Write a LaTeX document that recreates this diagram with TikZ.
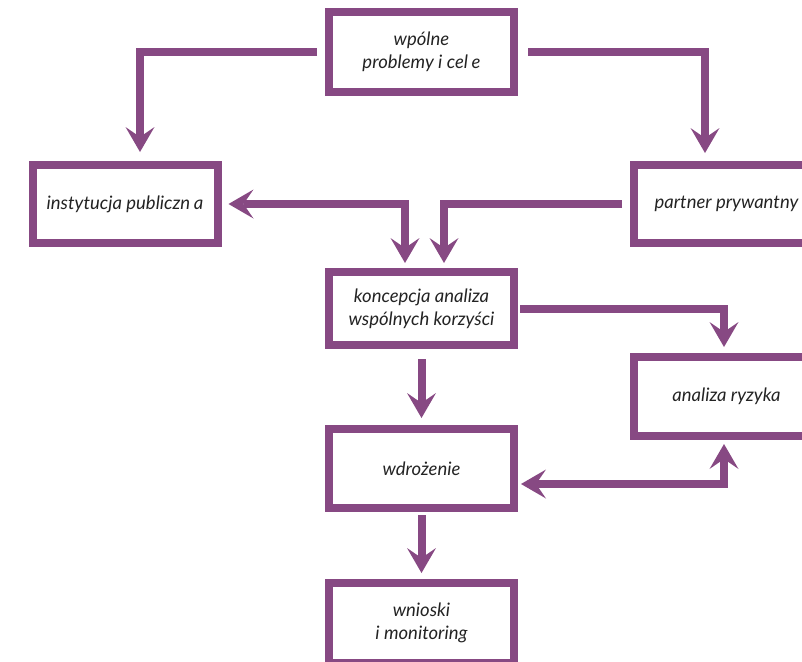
\documentclass[tikz,border=0pt]{standalone}
\usepackage{fontspec}
\setmainfont{Lato}
\usetikzlibrary{arrows.meta}
\definecolor{fiolet}{RGB}{135,73,131}
\definecolor{tekst}{RGB}{35,35,35}
\tikzset{
  box/.style={draw=fiolet, line width=8pt, minimum width=185pt, minimum height=79pt,
    inner sep=0pt, align=center, text=tekst, font=\itshape\fontsize{18.5}{23}\selectfont},
  arr/.style={draw=fiolet, line width=8pt,
    >={Stealth[length=25pt,width=29pt,inset=10pt,line width=0pt]}, ->}
}
\begin{document}
\begin{tikzpicture}[x=1pt,y=-1pt]
    \useasboundingbox (0,0) rectangle (802,661);
    \clip (0,0) rectangle (802,661);
    % boxes
    \node[box, minimum height=80pt] (prob) at (421.5,52) {wpólne\\problemy i cel\hspace{0.2em}e};
    \node[box, minimum height=78pt] (inst) at (125,204) {instytucja publiczn\hspace{0.2em}a};
    \node[box, minimum height=78pt] (part) at (726.5,204) {partner prywantny};
    \node[box, minimum height=73pt] (konc) at (421.5,308.5) {koncepcja analiza\\wspólnych korzyści};
    \node[box] (anal) at (726.5,396.5) {analiza ryzyka};
    \node[box] (wdr) at (421.5,468.5) {wdrożenie};
    \node[box, minimum height=80pt] (wn) at (421.5,623) {wnioski\\i monitoring};
    % connectors
    \draw[arr, shorten <=8pt, shorten >=9pt] (prob.west) -| ([xshift=15pt]inst.north);
    \draw[arr, shorten <=10pt, shorten >=8pt] (prob.east) -| ([xshift=-21.5pt]part.north);
    \draw[arr, <->, shorten <=7pt, shorten >=5pt] (inst.east) -| ([xshift=-16.5pt]konc.north);
    \draw[arr, shorten <=8pt, shorten >=5pt] (part.west) -| ([xshift=22.5pt]konc.north);
    \draw[arr, shorten <=2pt, shorten >=6pt] (konc.east) -| ([xshift=-2.5pt]anal.north);
    \draw[arr, shorten <=10pt, shorten >=7pt] (konc.south) -- (wdr.north);
    \draw[arr, <->, shorten <=3pt, shorten >=4pt] ([yshift=-15.5pt]wdr.east) -| ([xshift=-2.5pt]anal.south);
    \draw[arr, shorten <=3pt, shorten >=6pt] (wdr.south) -- (wn.north);
\end{tikzpicture}
\end{document}
